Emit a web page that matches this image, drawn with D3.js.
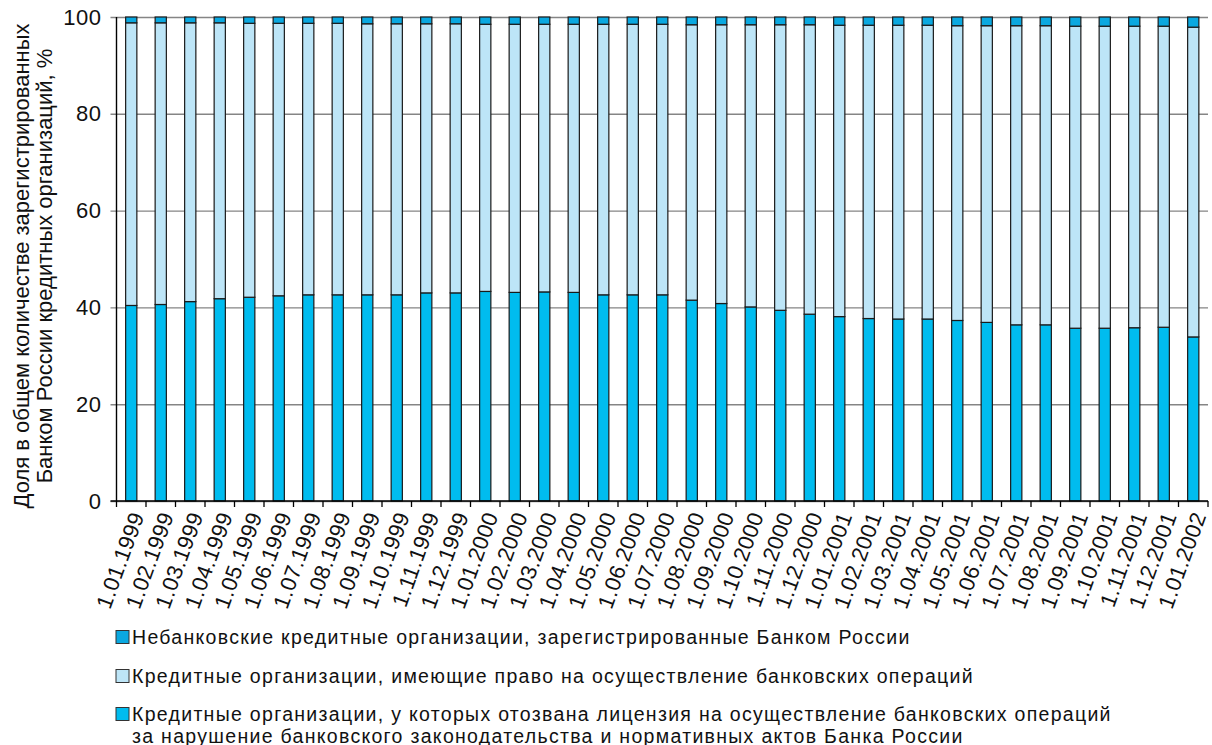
<!DOCTYPE html>
<html><head><meta charset="utf-8">
<script src="https://cdn.jsdelivr.net/npm/d3@7"></script>
<style>
html,body{margin:0;padding:0;background:#fff;}
svg{display:block;font-family:"Liberation Sans",Arial,Helvetica,sans-serif;}
</style></head><body>
<svg id="chart" width="1212" height="745"></svg>
<script>
const dates = ["1.01.1999","1.02.1999","1.03.1999","1.04.1999","1.05.1999","1.06.1999","1.07.1999","1.08.1999","1.09.1999","1.10.1999","1.11.1999","1.12.1999",
"1.01.2000","1.02.2000","1.03.2000","1.04.2000","1.05.2000","1.06.2000","1.07.2000","1.08.2000","1.09.2000","1.10.2000","1.11.2000","1.12.2000",
"1.01.2001","1.02.2001","1.03.2001","1.04.2001","1.05.2001","1.06.2001","1.07.2001","1.08.2001","1.09.2001","1.10.2001","1.11.2001","1.12.2001","1.01.2002"];
// bottom: licence revoked
const revoked = [40.4,40.6,41.2,41.8,42.1,42.4,42.6,42.6,42.6,42.6,43.0,43.0,43.3,43.1,43.2,43.1,42.6,42.6,42.6,41.5,40.8,40.1,39.4,38.6,38.1,37.7,37.6,37.6,37.3,36.9,36.4,36.4,35.7,35.7,35.8,35.9,33.9];
// middle: entitled to banking operations
const active = [58.4,58.2,57.6,57.0,56.6,56.3,56.1,56.1,56.0,56.0,55.6,55.6,55.2,55.4,55.3,55.4,55.9,55.9,55.9,56.9,57.6,58.3,59.0,59.8,60.2,60.6,60.7,60.7,60.9,61.3,61.8,61.8,62.4,62.4,62.3,62.2,64.0];
// top: non-bank credit organisations
const nonbank = [1.2,1.2,1.2,1.2,1.3,1.3,1.3,1.3,1.4,1.4,1.4,1.4,1.5,1.5,1.5,1.5,1.5,1.5,1.5,1.6,1.6,1.6,1.6,1.6,1.7,1.7,1.7,1.7,1.8,1.8,1.8,1.8,1.9,1.9,1.9,1.9,2.1];
const yTicks = [0,20,40,60,80,100];
const yTitle = ["Доля в общем количестве зарегистрированных","Банком России кредитных организаций, %"];
const legendLabels = [
  ["Небанковские кредитные организации, зарегистрированные Банком России"],
  ["Кредитные организации, имеющие право на осуществление банковских операций"],
  ["Кредитные организации, у которых отозвана лицензия на осуществление банковских операций","за нарушение банковского законодательства и нормативных актов Банка России"]
];
const colors = {nonbank:"#0aa8e0", active:"#bde5f7", revoked:"#00bcef"};
const legendColors = [colors.nonbank, colors.active, colors.revoked];

const svg = d3.select("#chart");
const pLeft = 116.5, pRight = 1208, pTop = 17, pBottom = 501;
const x = d3.scaleBand().domain(dates).range([pLeft, pRight]).paddingInner(0.62).paddingOuter(0.31);
const y = d3.scaleLinear().domain([0,100]).range([pBottom, pTop]);

const rows = dates.map((d,i)=>({date:d, revoked:revoked[i], active:active[i], nonbank:nonbank[i]}));
const keys = ["revoked","active","nonbank"];
const stacked = d3.stack().keys(keys)(rows);

// grid + y axis
const yAxis = d3.axisLeft(y).tickValues(yTicks).tickSize(-(pRight-pLeft)).tickSizeOuter(0).tickPadding(10);
const gy = svg.append("g").attr("transform",`translate(${pLeft},0)`).call(yAxis);
gy.select(".domain").remove();
gy.selectAll(".tick line").attr("stroke","#858585").attr("stroke-width",1.4).attr("x1",-6);
gy.selectAll(".tick text").attr("font-size",22).attr("fill","#111").attr("letter-spacing","0.5px").attr("x",-15);

// bars
const step = x.step(), bw = x.bandwidth();
svg.append("g").selectAll("g").data(stacked).join("g")
  .attr("fill", d=>colors[d.key])
  .selectAll("rect").data(d=>d).join("rect")
  .attr("x", d=>x(d.data.date))
  .attr("width", bw)
  .attr("y", d=>y(d[1]))
  .attr("height", d=>y(d[0])-y(d[1]))
  .attr("stroke","#1a1a1a").attr("stroke-width",1.2);

// axes lines
svg.append("line").attr("x1",pLeft).attr("x2",pLeft).attr("y1",pTop).attr("y2",pBottom).attr("stroke","#000").attr("stroke-width",1.4);
svg.append("line").attr("x1",pLeft-6).attr("x2",pRight).attr("y1",pBottom).attr("y2",pBottom).attr("stroke","#000").attr("stroke-width",1.4);
// x ticks at band boundaries
const bounds = dates.map(d=>x(d) - (step-bw)/2).concat([x(dates[dates.length-1]) + bw + (step-bw)/2]);
svg.append("g").selectAll("line").data(bounds).join("line")
  .attr("x1",d=>d).attr("x2",d=>d).attr("y1",pBottom).attr("y2",pBottom+6)
  .attr("stroke","#000").attr("stroke-width",1.3);
// x labels
svg.append("g").selectAll("text").data(dates).join("text")
  .attr("transform", d=>`translate(${x(d)+bw/2+6},${pBottom+12}) rotate(-70)`)
  .attr("text-anchor","end").attr("dy","0.35em")
  .attr("font-size",22).attr("letter-spacing","0.3px").attr("fill","#111")
  .text(d=>d);

// y title
const yt = svg.append("text").attr("transform","translate(29,266) rotate(-90)")
  .attr("text-anchor","middle").attr("font-size",22).attr("fill","#111");
yTitle.forEach((t,i)=>yt.append("tspan").attr("x",0).attr("dy", i===0?0:23).text(t));

// legend
const legY = [637, 676, 714];
const lg = svg.append("g");
legendLabels.forEach((lines,i)=>{
  lg.append("rect").attr("x",116).attr("y",legY[i]-6.5).attr("width",13).attr("height",13)
    .attr("fill",legendColors[i]).attr("stroke","#333").attr("stroke-width",1);
  lines.forEach((t,j)=>{
    lg.append("text").attr("x",132).attr("y",legY[i]+6.5+j*22)
      .attr("font-size",19.5).attr("fill","#111").attr("letter-spacing","1.3px").text(t);
  });
});
</script></body></html>
